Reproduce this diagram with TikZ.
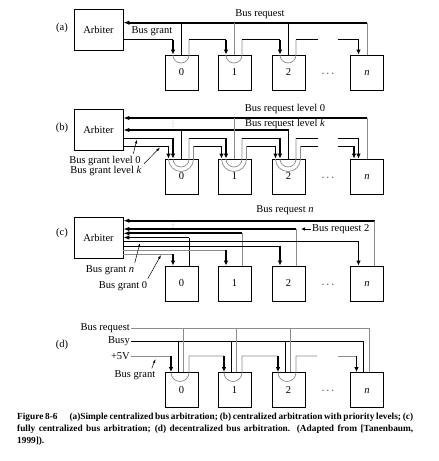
\documentclass[tikz,border=0pt]{standalone}
\usepackage{fontspec}
\setmainfont{Liberation Serif}
\usetikzlibrary{arrows.meta}

\begin{document}
\begin{tikzpicture}[x = 1pt, y = -1pt, font = \fontsize{10.5}{12}\selectfont,
 unit/.style = {draw, line width = 0.8pt, minimum width = 33pt, minimum height = 35pt, inner sep = 0pt, text height = 1.6ex, text depth = 0.2ex},
 arbiter/.style = {draw, line width = 0.8pt, minimum width = 49pt, minimum height = 41pt, inner sep = 0pt},
 bus/.style = {line width = 1.8pt, -{Latex[length = 6pt, width = 4.5pt]}},
 wire/.style = {line width = 0.7pt},
 greywire/.style = {line width = 0.7pt, color = black!45},
 drop/.style = {line width = 1.4pt, -{Latex[length = 5pt, width = 4.5pt]}},
 pointer/.style = {line width = 0.5pt, -{Latex[length = 4pt, width = 2.5pt]}},
 dot/.style = {fill = black!45}]
\useasboundingbox (0,0) rectangle (439,461);
\node (la) at (62,28) {(a)};
\node [arbiter] (arbA) at (98.5,30) {Arbiter};
\node [unit] (a0) at (181.5,72.5) {0};
\node [unit] (a1) at (234.5,72.5) {1};
\node [unit] (a2) at (288.5,72.5) {2};
\node [unit] (an) at (367,72.5) {\textit{n}};
\node (ca) at (328,74) {$\cdots$};
\node (reqlabA) at (260,14) {Bus request};
\node (grantlabA) at (152,31) {Bus grant};
\coordinate (reqA) at (367,22.7);
\draw [bus] (reqA) -- (reqA -| arbA.east);
\draw [wire] (a0.north |- reqA) -- (a0.north);
\draw [greywire] (a1.north |- reqA) -- (a1.north);
\draw [wire] (a2.north |- reqA) -- (a2.north);
\draw [greywire] (reqA) -- (an.north);
\draw [wire] (arbA.east |- 0,39.5) -- (173,39.5);
\draw [drop] (173,39.5) -- (173,39.5 |- a0.north);
\draw [greywire] (173,55) arc [start angle = 180, end angle = 0, radius = 8] -- (189,39.5);
\draw [wire] (189,39.5) -- (226,39.5);
\draw [drop] (226,39.5) -- (226,39.5 |- a1.north);
\draw [greywire] (226,55) arc [start angle = 180, end angle = 0, radius = 8] -- (242,39.5);
\draw [wire] (242,39.5) -- (280,39.5);
\draw [drop] (280,39.5) -- (280,39.5 |- a2.north);
\draw [greywire] (280,55) arc [start angle = 180, end angle = 0, radius = 8] -- (296,39.5);
\draw [wire] (296,39.5) -- (318,39.5);
\draw [wire] (338,39.5) -- (358.5,39.5);
\draw [drop] (358.5,39.5) -- (358.5,39.5 |- an.north);

\node (lb) at (62,128) {(b)};
\node [arbiter] (arbB) at (98.5,129.5) {Arbiter};
\node [unit] (b0) at (181.5,176.5) {0};
\node [unit] (b1) at (234.5,176.5) {1};
\node [unit] (b2) at (288.5,176.5) {2};
\node [unit] (bn) at (367,176.5) {\textit{n}};
\node (cb) at (328,178) {$\cdots$};
\node (reqlabB0) at (285,109) {Bus request level 0};
\node (reqlabBk) at (285,124) {Bus request level \textit{k}};
\fill [dot] (173,121) circle [radius = 0.5];
\fill [dot] (173,123.5) circle [radius = 0.5];
\fill [dot] (173,126) circle [radius = 0.5];
\coordinate (reqB0) at (367,118);
\coordinate (reqBk) at (288.5,130);
\draw [bus] (reqB0) -- (reqB0 -| arbB.east);
\draw [bus] (reqBk) -- (reqBk -| arbB.east);
\draw [greywire] (b1.north |- reqB0) -- (b1.north);
\draw [greywire] (reqB0) -- (bn.north);
\draw [wire] (b0.north |- reqBk) -- (b0.north);
\draw [wire] (reqBk) -- (b2.north);
\draw [wire] (arbB.east |- 0,138) -- (173,138);
\draw [drop] (173,138) -- (173,138 |- b0.north);
\draw [wire] (arbB.east |- 0,146) -- (168.5,146);
\draw [drop] (168.5,146) -- (168.5,146 |- b0.north);
\draw [greywire] (168.5,159) arc [start angle = 180, end angle = 0, radius = 12.5] -- (193.5,146);
\draw [greywire] (173,159) arc [start angle = 180, end angle = 0, radius = 8] -- (189,138);
\draw [wire] (189,138) -- (226,138);
\draw [drop] (226,138) -- (226,138 |- b1.north);
\draw [wire] (193.5,146) -- (221.5,146);
\draw [drop] (221.5,146) -- (221.5,146 |- b1.north);
\draw [greywire] (221.5,159) arc [start angle = 180, end angle = 0, radius = 12.5] -- (246.5,146);
\draw [greywire] (226,159) arc [start angle = 180, end angle = 0, radius = 8] -- (242,138);
\draw [wire] (242,138) -- (280,138);
\draw [drop] (280,138) -- (280,138 |- b2.north);
\draw [wire] (246.5,146) -- (275.5,146);
\draw [drop] (275.5,146) -- (275.5,146 |- b2.north);
\draw [greywire] (275.5,159) arc [start angle = 180, end angle = 0, radius = 12.5] -- (300.5,146);
\draw [greywire] (280,159) arc [start angle = 180, end angle = 0, radius = 8] -- (296,138);
\draw [wire] (296,138) -- (318,138);
\draw [wire] (300.5,146) -- (318,146);
\draw [wire] (338,138) -- (358.5,138);
\draw [drop] (358.5,138) -- (358.5,138 |- bn.north);
\draw [wire] (338,146) -- (354,146);
\draw [drop] (354,146) -- (354,146 |- bn.north);
\node (grantlabB0) at (105,161) {Bus grant level 0};
\node (grantlabBk) at (106,171) {Bus grant level \textit{k}};
\draw [pointer] (grantlabB0.north east) ++(-11,1) -- (137,139.5);
\draw [pointer] (grantlabBk.north east) ++(-1,1) -- (160,147.5);

\node (lc) at (62,233) {(c)};
\node [arbiter] (arbC) at (98.5,237.5) {Arbiter};
\node [unit] (c0) at (181.5,283.5) {0};
\node [unit] (c1) at (234.5,283.5) {1};
\node [unit] (c2) at (288.5,283.5) {2};
\node [unit] (cn) at (367,283.5) {\textit{n}};
\node (cc) at (328,285) {$\cdots$};
\node (reqlabCn) at (285,210) {Bus request \textit{n}};
\node [anchor = west, inner sep = 1pt] (reqlabC2) at (311,229) {Bus request 2};
\fill [dot] (173,222) circle [radius = 0.5];
\fill [dot] (173,224.5) circle [radius = 0.5];
\fill [dot] (173,227) circle [radius = 0.5];
\coordinate (reqCn) at (374.5,220.7);
\coordinate (reqC2) at (296,229);
\coordinate (reqC1) at (242,233.3);
\coordinate (reqC0) at (189,237.5);
\draw [bus] (reqCn) -- (reqCn -| arbC.east);
\draw [bus] (reqC2) -- (reqC2 -| arbC.east);
\draw [bus] (reqC1) -- (reqC1 -| arbC.east);
\draw [bus] (reqC0) -- (reqC0 -| arbC.east);
\draw [greywire] (reqCn) -- (reqCn |- cn.north);
\draw [greywire] (reqC2) -- (reqC2 |- c2.north);
\draw [greywire] (reqC1) -- (reqC1 |- c1.north);
\draw [wire] (reqC0) -- (reqC0 |- c0.north);
\draw [line width = 1pt, -{Latex[length = 4pt, width = 3.5pt]}] (reqlabC2.west) -- (301,229);
\draw [wire] (arbC.east |- 0,241.7) -- (358.5,241.7);
\draw [drop] (358.5,241.7) -- (358.5,241.7 |- cn.north);
\draw [wire] (arbC.east |- 0,246) -- (280,246);
\draw [drop] (280,246) -- (280,246 |- c2.north);
\draw [greywire] (arbC.east |- 0,250) -- (226,250);
\draw [drop] (226,250) -- (226,250 |- c1.north);
\draw [greywire] (arbC.east |- 0,254) -- (173,254);
\draw [drop] (173,254) -- (173,254 |- c0.north);
\node (grantlabCn) at (110,270) {Bus grant \textit{n}};
\node (grantlabC0) at (123,286) {Bus grant 0};
\draw [pointer] (grantlabCn.north east) ++(-3,1) -- (140,243);
\draw [pointer] (grantlabC0.north east) ++(-3,1) -- (161,255);

\node (ld) at (62,345) {(d)};
\node [anchor = east, inner sep = 1pt] (reqlabD) at (131,328.5) {Bus request};
\node [anchor = east, inner sep = 1pt] (busylabD) at (131,341) {Busy};
\node [anchor = east, inner sep = 1pt] (powerlabD) at (131,356) {+5V};
\node [unit] (d0) at (181.5,390) {0};
\node [unit] (d1) at (234.5,390) {1};
\node [unit] (d2) at (288.5,390) {2};
\node [unit] (dn) at (367,390) {\textit{n}};
\node (cd) at (328,391.5) {$\cdots$};
\coordinate (reqD) at (369.5,328.5);
\coordinate (busyD) at (363.5,341);
\draw [greywire] (reqlabD.east) -- (reqD);
\draw [wire] (busylabD.east) -- (busyD);
\draw [greywire] (183.5,328.5) -- (183.5,328.5 |- d0.north);
\draw [greywire] (236.5,328.5) -- (236.5,328.5 |- d1.north);
\draw [greywire] (290.5,328.5) -- (290.5,328.5 |- d2.north);
\draw [greywire] (reqD) -- (reqD |- dn.north);
\draw [wire] (178,341) -- (178,341 |- d0.north);
\draw [wire] (231,341) -- (231,341 |- d1.north);
\draw [wire] (285,341) -- (285,341 |- d2.north);
\draw [wire] (busyD) -- (busyD |- dn.north);
\draw [greywire] (powerlabD.east) -- (171,356);
\draw [drop] (171,356) -- (171,356 |- d0.north);
\draw [greywire] (171,372.5) arc [start angle = 180, end angle = 0, radius = 9] -- (189,356) -- (224,356);
\draw [drop] (224,356) -- (224,356 |- d1.north);
\draw [greywire] (224,372.5) arc [start angle = 180, end angle = 0, radius = 9] -- (242,356) -- (278,356);
\draw [drop] (278,356) -- (278,356 |- d2.north);
\draw [greywire] (278,372.5) arc [start angle = 180, end angle = 0, radius = 9] -- (296,356) -- (317,356);
\draw [greywire] (338,356) -- (356.5,356);
\draw [drop] (356.5,356) -- (356.5,356 |- dn.north);
\node (grantlabD) at (135,375.5) {Bus grant};
\draw [pointer] (grantlabD.north east) ++(-7,1) -- (155.5,359);

\node [anchor = north west, text width = 396pt, align = justify, inner sep = 0pt, font = \bfseries\fontsize{9.3}{12}\selectfont] (caption) at (17,413) {Figure 8-6\hspace{1.3em}(a)Simple centralized bus arbitration; (b) centralized arbitration with priority levels; (c)\linebreak fully centralized bus arbitration; (d) decentralized bus arbitration. (Adapted from [Tanenbaum,\linebreak 1999]).};
\end{tikzpicture}
\end{document}
